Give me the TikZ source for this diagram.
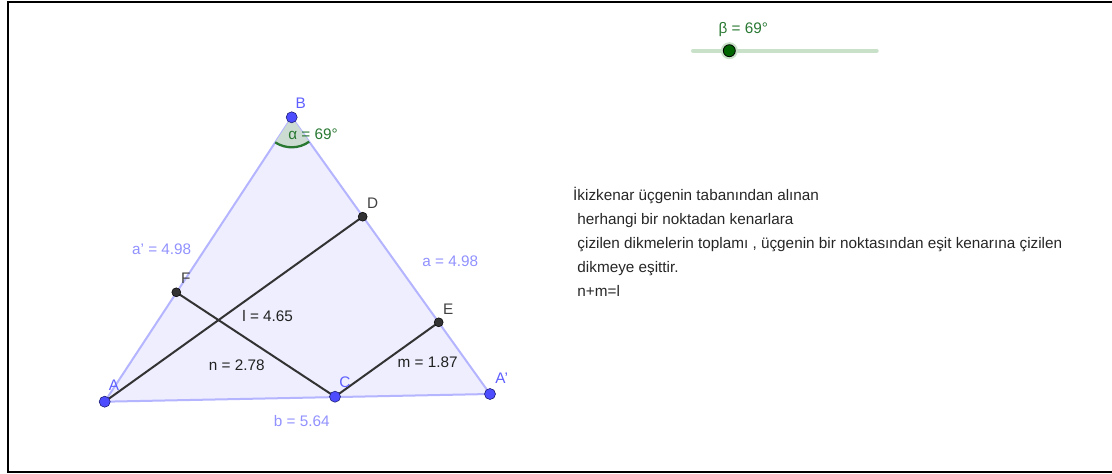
\documentclass[tikz,border=0pt]{standalone}
\usepackage{fontspec}
\setmainfont{Liberation Sans}
\definecolor{trifill}{RGB}{238,238,255}
\definecolor{triedge}{RGB}{180,180,255}
\definecolor{ptblue}{RGB}{77,77,255}
\definecolor{ptblueline}{RGB}{30,30,120}
\definecolor{ptdark}{RGB}{51,51,51}
\definecolor{lblblue}{RGB}{95,95,255}
\definecolor{sideblue}{RGB}{145,145,255}
\definecolor{seggray}{RGB}{51,51,51}
\definecolor{anglegreen}{RGB}{40,120,50}
\definecolor{anglefill}{RGB}{205,220,210}
\definecolor{slidertrack}{RGB}{200,225,200}
\definecolor{sliderdot}{RGB}{0,100,0}
\begin{document}
\begin{tikzpicture}[x=1pt,y=-1pt,
  every node/.style={font=\fontsize{15.3}{18}\selectfont, inner sep=0pt},
  bluept/.style={circle, fill=ptblue, draw=ptblueline, line width=0.6pt, minimum size=11pt},
  darkpt/.style={circle, fill=ptdark, draw=black, line width=0.5pt, minimum size=9pt},
  seg/.style={draw=seggray, line width=2pt},
  ptlbl/.style={anchor=base, text=lblblue},
  darklbl/.style={anchor=base, text=black!75},
  sidelbl/.style={anchor=base, text=sideblue},
  vallbl/.style={anchor=base, text=black!87},
  txt/.style={anchor=base west, text=black!85}
]
\useasboundingbox (0,0) rectangle (1112,474);
% frame
\draw[line width=2.5pt] (1112,2.2) -- (8,2.2) -- (8,472) -- (1112,472);

% points
\coordinate (A) at (104.7,401.7);
\coordinate (B) at (291.7,117.3);
\coordinate (A2) at (490,394);
\coordinate (C) at (335,396.7);
\coordinate (D) at (362.7,216.7);
\coordinate (E) at (438.7,322.3);
\coordinate (F) at (176.3,292.3);

% triangle
\fill[trifill] (A) -- (B) -- (A2) -- cycle;
\draw[triedge, line width=2pt, line join=round] (A) -- (B) -- (A2) -- cycle;

% angle at B
\fill[anglefill] (B) -- ++(54.4:30) arc[start angle=54.4, end angle=123.3, radius=30] -- cycle;
\draw[anglegreen, line width=2.3pt] (B) ++(54.4:30) arc[start angle=54.4, end angle=123.3, radius=30];

% segments
\draw[seg] (A) -- (D);
\draw[seg] (F) -- (C);
\draw[seg] (C) -- (E);

% point markers
\node[bluept] (pA) at (A) {};
\node[bluept] (pB) at (B) {};
\node[bluept] (pA2) at (A2) {};
\node[bluept] (pC) at (C) {};
\node[darkpt] (pD) at (D) {};
\node[darkpt] (pE) at (E) {};
\node[darkpt] (pF) at (F) {};

% point labels
\node[ptlbl] (lB) at (300.7,108.2) {B};
\node[ptlbl] (lA) at (114,390.5) {A};
\node[ptlbl] (lC) at (345,387.2) {C};
\node[ptlbl] (lA2) at (501.7,383.8) {A'};
\node[darklbl] (lD) at (372.7,208.8) {D};
\node[darklbl] (lE) at (448.3,314) {E};
\node[darklbl] (lF) at (185.7,283.8) {F};

% value labels
\node[sidelbl] (la1) at (161.7,254.5) {a' = 4.98};
\node[sidelbl] (la) at (450.3,266.3) {a = 4.98};
\node[sidelbl] (lb) at (301.7,426.5) {b = 5.64};
\node[vallbl] (ll) at (267.7,321.2) {l = 4.65};
\node[vallbl] (ln) at (236.7,370.5) {n = 2.78};
\node[vallbl] (lm) at (427.7,367.2) {m = 1.87};
\node[anchor=base, text=anglegreen] (lalpha) at (313,139.5) {α = 69°};

% slider
\coordinate (s1) at (693,50.7);
\coordinate (s2) at (876.7,50.7);
\draw[slidertrack, line width=4pt, line cap=round] (s1) -- (s2);
\node[circle, fill=slidertrack, minimum size=17pt] (halo) at (729.3,50.7) {};
\node[circle, fill=sliderdot, draw=black, line width=0.8pt, minimum size=12pt] (sdot) at (729.3,50.7) {};
\node[anchor=base, text=anglegreen] (lbeta) at (743.3,33.8) {β = 69°};

% text
\node[txt] (t1) at (573,200) {İkizkenar üçgenin tabanından alınan};
\node[txt] (t2) at (573,224) {\ herhangi bir noktadan kenarlara};
\node[txt] (t3) at (573,248) {\ çizilen dikmelerin toplamı , üçgenin bir noktasından eşit kenarına çizilen};
\node[txt] (t4) at (573,272) {\ dikmeye eşittir.};
\node[txt] (t5) at (573,296) {\ n+m=l};
\end{tikzpicture}
\end{document}
